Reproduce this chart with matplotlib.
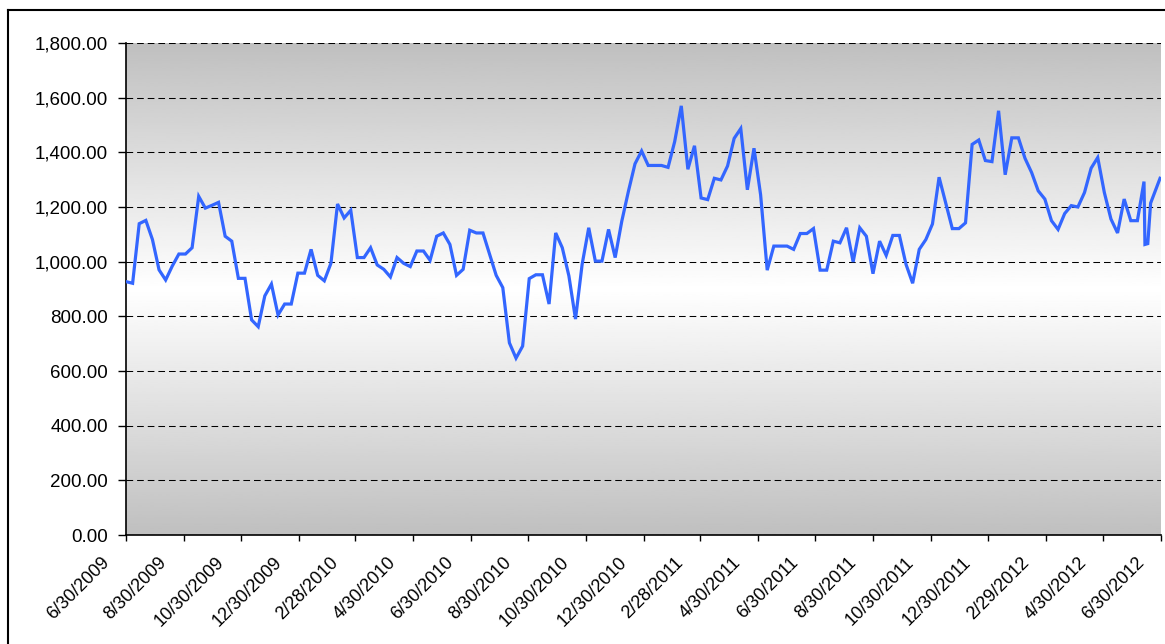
import numpy as np
import pandas as pd
import matplotlib
matplotlib.use("Agg")
import matplotlib.pyplot as plt
import matplotlib.dates as mdates
from matplotlib.ticker import FuncFormatter
from matplotlib.lines import Line2D

plt.rcParams['font.family'] = ['Liberation Sans', 'DejaVu Sans']

# weekly closes
values_2009 = [927, 921, 1139, 1151, 1081, 970, 933, 984, 1028, 1028, 1051, 1239, 1196, 1206,
               1217, 1093, 1075, 939, 939, 787, 762, 875, 918, 805, 845, 845, 958]
values_2010 = [958, 1045, 950, 930, 994, 1211, 1160, 1188, 1015, 1015, 1051, 988, 972, 944,
               1015, 994, 982, 1039, 1039, 1005, 1093, 1105, 1063, 950, 972, 1115, 1105, 1105,
               1027, 950, 905, 703, 647, 691, 938, 952, 952, 845, 1105, 1051, 948, 790, 990,
               1124, 1002, 1002, 1118, 1015, 1148, 1257, 1358, 1405]
values_2011 = [1352, 1352, 1352, 1345, 1439, 1570, 1338, 1424, 1233, 1227, 1305, 1299, 1350,
               1451, 1487, 1263, 1415, 1245, 969, 1057, 1057, 1057, 1045, 1103, 1103, 1121, 969,
               969, 1075, 1069, 1124, 999, 1124, 1093, 956, 1075, 1023, 1096, 1096, 990, 921,
               1045, 1081, 1138, 1309, 1215, 1121, 1121, 1142, 1429, 1445, 1370]
values_2012 = [1366, 1552, 1318, 1453, 1453, 1378, 1326, 1259, 1229, 1150, 1118, 1176, 1205,
               1200, 1253, 1342, 1381, 1253, 1156, 1105, 1229, 1150, 1150, 1293]
# last few irregular points at the end of June 2012
tail_dates = ["2012-06-13", "2012-06-16", "2012-06-19", "2012-06-29"]
tail_values = [1063, 1066, 1214, 1305]

tick_labels = ["6/30/2009", "8/30/2009", "10/30/2009", "12/30/2009", "2/28/2010", "4/30/2010",
               "6/30/2010", "8/30/2010", "10/30/2010", "12/30/2010", "2/28/2011", "4/30/2011",
               "6/30/2011", "8/30/2011", "10/30/2011", "12/30/2011", "2/29/2012", "4/30/2012",
               "6/30/2012"]

weekly = values_2009 + values_2010 + values_2011 + values_2012
dates = list(pd.date_range("2009-06-30", periods=len(weekly), freq="7D")) + list(pd.to_datetime(tail_dates))
values = weekly + tail_values
tick_dates = pd.to_datetime(tick_labels, format="%m/%d/%Y")

fig = plt.figure(figsize=(11.65, 6.44), dpi=100)
ax = fig.add_axes([126 / 1165, 1 - 535 / 644, (1161 - 126) / 1165, (535 - 43) / 644])

# grey - white - grey background
t = np.linspace(0, 1, 256)
shade = 1.0 - 0.25 * np.abs(t - 0.5) * 2
ax.imshow(shade[:, None], extent=[0, 1, 0, 1], transform=ax.transAxes, aspect="auto",
          cmap="gray", vmin=0, vmax=1, zorder=0)

ax.plot(dates, values, color="#3366ff", lw=2.3, zorder=3, solid_joinstyle="miter")

ax.set_xlim(tick_dates[0], tick_dates[-1])
ax.set_ylim(0, 1800)
ax.set_yticks(np.arange(0, 1801, 200))
ax.yaxis.set_major_formatter(FuncFormatter(lambda v, p: f"{v:,.2f}"))
ax.set_xticks(tick_dates)
ax.set_xticklabels([])
# date labels sit down-left of their ticks, like Excel does it
for d, lab in zip(tick_dates, tick_labels):
    ax.annotate(lab, xy=(mdates.date2num(d), 0), xycoords=ax.get_xaxis_transform(),
                xytext=(-14, -18), textcoords="offset points", rotation=45, ha="right",
                va="center", rotation_mode="anchor", fontsize=13, annotation_clip=False)

ax.yaxis.grid(True, color="black", linestyle=(0, (6.4, 3.8)), lw=0.75, zorder=1)
ax.set_axisbelow(False)
for s in ["top", "right"]:
    ax.spines[s].set_visible(False)
for s in ["left", "bottom"]:
    ax.spines[s].set_linewidth(1.2)
ax.tick_params(axis="y", direction="out", length=6, width=1, labelsize=13.5, pad=7)
ax.tick_params(axis="x", direction="out", length=4, width=1)

# frame around the chart
fig.add_artist(Line2D([7.5 / 1165, 7.5 / 1165], [0, 1 - 10 / 644], color="black", lw=1.5))
fig.add_artist(Line2D([7.5 / 1165, 1], [1 - 10 / 644, 1 - 10 / 644], color="black", lw=1.5))

fig.savefig("out.png", dpi=100)
